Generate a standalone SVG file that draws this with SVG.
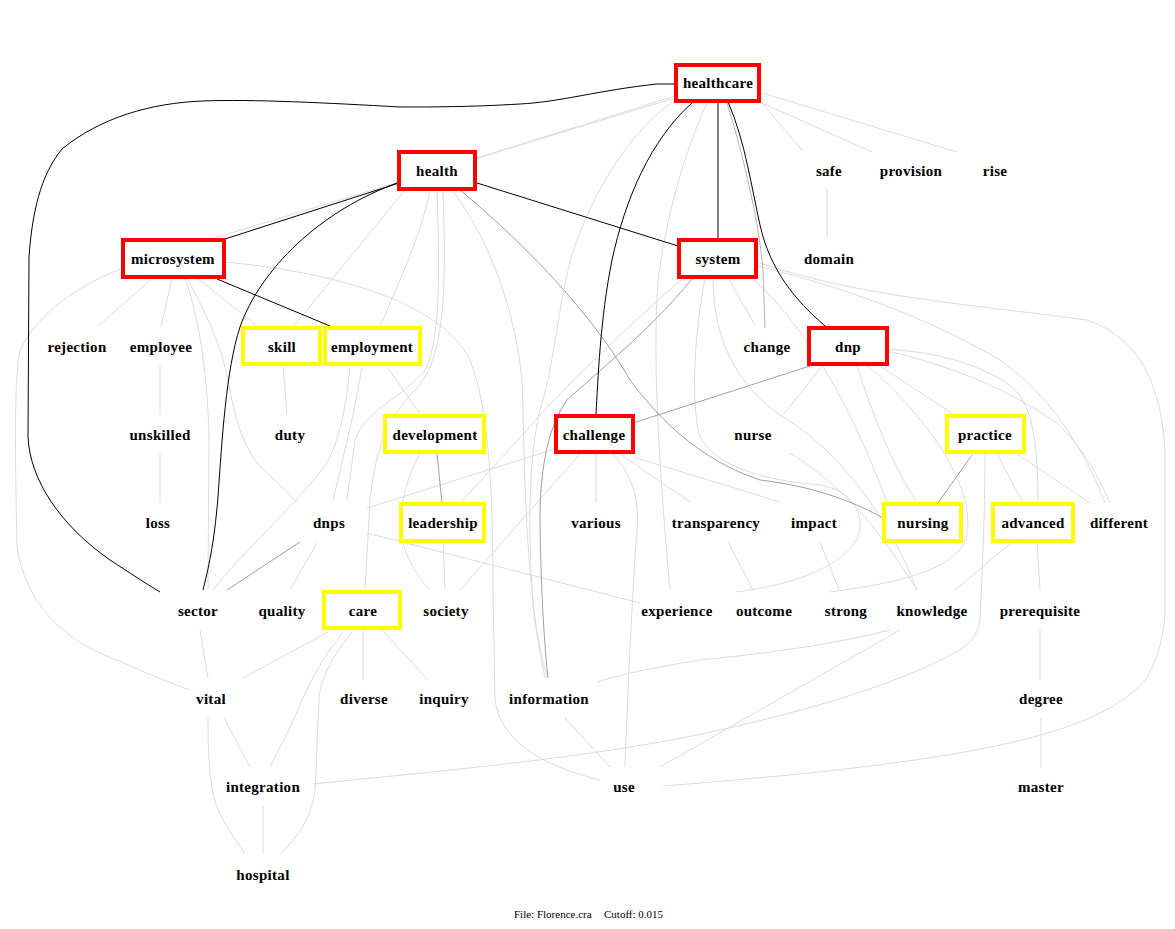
<svg xmlns="http://www.w3.org/2000/svg" width="1175" height="929" viewBox="0 0 1175 929">
<style>
text{font-family:"Liberation Serif","Times New Roman",serif;font-size:15px;font-weight:bold;fill:#000;text-anchor:middle;letter-spacing:0.3px}
.ft{font-size:11px;font-weight:normal;text-anchor:start;letter-spacing:0}
.e path{fill:none;stroke-width:1}
.k{stroke:#000}
.g{stroke:#A0A0A0}
.m{stroke:#B4B4B4}
.l{stroke:#DCDCDC}
.r{fill:#fff;stroke:#FF0000;stroke-width:4}
.y{fill:#fff;stroke:#FFFF00;stroke-width:4}
</style>
<rect width="1175" height="929" fill="#fff"/>
<g id="connectors" class="e">
<path class="l" d="M675,96 L477,158"/>
<path class="l" d="M675,98 L208,240"/>
<path class="l" d="M760,101 L803,151"/>
<path class="l" d="M762,103 L872,152"/>
<path class="l" d="M762,93 L957,152"/>
<path class="l" d="M707,103 C685,150 665,220 658,282 C652,360 660,480 670,590"/>
<path class="l" d="M672,102 C620,140 585,210 570,262 C558,310 553,370 540,410 C530,450 527,520 533,603 C537,640 541,660 545,678"/>
<path class="l" d="M827,190 L827,238"/>
<path class="l" d="M405,190 L293,327"/>
<path class="l" d="M430,190 C420,240 395,290 380,327"/>
<path class="l" d="M437,190 C440,280 440,340 425,370 C400,400 365,410 355,440 L347,500"/>
<path class="l" d="M443,190 C446,280 446,350 420,385 C388,415 375,450 370,500 L365,590"/>
<path class="l" d="M452,190 C490,240 515,310 522,380 C524,430 524,520 533,603 C537,640 543,660 547,678"/>
<path class="l" d="M153,278 L97,327"/>
<path class="l" d="M172,278 L161,327"/>
<path class="l" d="M197,278 L258,327"/>
<path class="l" d="M185,278 C200,320 208,380 209,440 L208,590"/>
<path class="l" d="M187,278 C210,320 222,350 228,380 C235,420 245,455 267,473 C280,485 290,495 297,502"/>
<path class="l" d="M123,268 C80,285 40,310 20,350 C14,380 15,450 17,547 C25,600 60,640 117,660 C150,675 170,683 190,690"/>
<path class="l" d="M225,262 C330,272 440,300 470,360 C490,410 493,500 493,590 L495,700 C500,740 540,765 600,780"/>
<path class="l" d="M160,366 L160,415"/>
<path class="l" d="M160,454 L160,503"/>
<path class="l" d="M283,366 L287,415"/>
<path class="l" d="M362,367 C355,410 345,450 333,500"/>
<path class="l" d="M387,367 C400,385 410,400 420,413"/>
<path class="l" d="M350,367 C345,420 335,455 320,472 C290,510 240,555 213,590"/>
<path class="l" d="M317,543 L290,590"/>
<path class="l" d="M367,533 L640,603"/>
<path class="l" d="M367,508 L555,449"/>
<path class="l" d="M200,630 L208,678"/>
<path class="l" d="M328,632 L243,678"/>
<path class="l" d="M363,630 L363,680"/>
<path class="l" d="M382,630 L428,680"/>
<path class="l" d="M343,632 C325,655 310,680 300,705 C290,730 278,750 270,767"/>
<path class="l" d="M352,632 C330,660 320,680 319,700 C317,740 316,780 315,790 C312,815 300,835 281,853"/>
<path class="l" d="M224,718 L250,767"/>
<path class="l" d="M208,718 C208,760 210,790 218,810 C228,830 237,843 245,853"/>
<path class="l" d="M263,806 L263,853"/>
<path class="l" d="M313,784 C450,770 600,757 720,730 C800,712 893,687 960,650 C975,640 978,630 980,620 C983,560 985,500 985,455"/>
<path class="l" d="M420,453 C405,480 400,510 400,527 C402,550 415,575 430,590"/>
<path class="l" d="M443,542 L445,590"/>
<path class="l" d="M580,454 L460,590"/>
<path class="l" d="M596,454 L596,503"/>
<path class="l" d="M620,454 L690,502"/>
<path class="l" d="M633,457 L780,502"/>
<path class="l" d="M613,454 C632,475 640,500 637,530 C633,580 628,680 625,767"/>
<path class="l" d="M683,278 C630,325 570,380 527,430 L460,503"/>
<path class="l" d="M728,278 L755,325"/>
<path class="l" d="M713,278 C713,330 730,380 780,415 C840,450 890,520 917,590"/>
<path class="l" d="M705,278 C695,330 690,400 700,437 C715,465 760,480 820,485 C850,490 862,510 860,530 C855,560 800,585 735,592"/>
<path class="l" d="M752,278 C800,320 850,400 887,503"/>
<path class="l" d="M822,366 L783,415"/>
<path class="l" d="M857,366 C875,420 890,460 917,503"/>
<path class="l" d="M880,366 L953,414"/>
<path class="l" d="M887,349 C930,352 970,360 1007,383 C1030,400 1038,430 1038,503"/>
<path class="l" d="M887,351 C950,365 1010,390 1057,423 C1085,450 1100,480 1110,503"/>
<path class="l" d="M868,366 C930,420 978,490 966,540 C950,575 880,585 830,592"/>
<path class="l" d="M757,266 C860,290 950,330 1000,360 C1050,395 1085,450 1105,503"/>
<path class="l" d="M757,262 C860,297 960,303 1087,320 C1130,335 1160,370 1165,450 L1165,617 C1162,645 1155,665 1145,680 C1100,730 1000,760 663,786"/>
<path class="l" d="M790,453 Q860,495 917,590"/>
<path class="l" d="M728,542 L753,590"/>
<path class="l" d="M820,542 L839,590"/>
<path class="l" d="M997,454 L1023,503"/>
<path class="l" d="M1017,454 L1090,503"/>
<path class="l" d="M1037,542 L1040,590"/>
<path class="l" d="M1012,542 L955,590"/>
<path class="l" d="M1040,630 L1040,680"/>
<path class="l" d="M1041,718 L1041,768"/>
<path class="l" d="M900,630 L660,767"/>
<path class="l" d="M890,630 C850,640 800,650 700,660 C650,668 620,675 597,682"/>
<path class="l" d="M565,718 L610,767"/>
<path class="m" d="M727,103 C745,160 760,230 763,270 L765,328"/>
<path class="g" d="M460,190 C520,240 590,310 630,380 C660,420 700,460 760,480 C820,487 860,505 883,518"/>
<path class="g" d="M810,366 L633,423"/>
<path class="g" d="M692,279 C650,330 600,370 567,400 C545,430 540,480 540,520 C541,600 545,650 548,678"/>
<path class="g" d="M437,454 L442,503"/>
<path class="g" d="M972,455 L938,503"/>
<path class="g" d="M300,542 L227,590"/>
<path class="k" d="M675,84 L657,84 C600,90 560,102 520,104 C470,107 430,107 400,107 C330,103 250,99 203,101 C150,103 100,118 62,149 C45,170 33,200 29,257 L28,437 C30,480 60,525 110,560 C130,573 145,583 160,592"/>
<path class="k" d="M399,183 L225,239"/>
<path class="k" d="M400,182 C320,210 260,270 240,327 C226,370 222,440 218,497 C214,545 208,570 203,590"/>
<path class="k" d="M217,279 L330,326"/>
<path class="k" d="M477,183 L678,246"/>
<path class="k" d="M718,103 L718,239"/>
<path class="k" d="M693,102 C650,140 625,200 612,260 C600,320 598,380 596,414"/>
<path class="k" d="M728,102 C745,140 752,190 760,225 C770,270 795,300 825,326"/>
</g>
<g id="healthcare"><rect class="r" x="676" y="65" width="83" height="36"/><text x="718" y="88">healthcare</text></g>
<g id="health"><rect class="r" x="399" y="152" width="76" height="37"/><text x="437" y="176">health</text></g>
<g id="safe"><text x="829" y="176">safe</text></g>
<g id="provision"><text x="911" y="176">provision</text></g>
<g id="rise"><text x="995" y="176">rise</text></g>
<g id="microsystem"><rect class="r" x="123" y="240" width="101" height="37"/><text x="173" y="264">microsystem</text></g>
<g id="system"><rect class="r" x="679" y="240" width="77" height="37"/><text x="718" y="264">system</text></g>
<g id="domain"><text x="829" y="264">domain</text></g>
<g id="rejection"><text x="77" y="352">rejection</text></g>
<g id="employee"><text x="161" y="352">employee</text></g>
<g id="skill"><rect class="y" x="243" y="328" width="77" height="36"/><text x="282" y="352">skill</text></g>
<g id="employment"><rect class="y" x="325" y="328" width="95" height="36"/><text x="372" y="352">employment</text></g>
<g id="change"><text x="767" y="352">change</text></g>
<g id="dnp"><rect class="r" x="809" y="328" width="78" height="36"/><text x="848" y="352">dnp</text></g>
<g id="unskilled"><text x="160" y="440">unskilled</text></g>
<g id="duty"><text x="290" y="440">duty</text></g>
<g id="development"><rect class="y" x="385" y="416" width="99" height="36"/><text x="435" y="440">development</text></g>
<g id="challenge"><rect class="r" x="556" y="416" width="77" height="36"/><text x="594" y="440">challenge</text></g>
<g id="nurse"><text x="753" y="440">nurse</text></g>
<g id="practice"><rect class="y" x="947" y="416" width="77" height="36"/><text x="985" y="440">practice</text></g>
<g id="loss"><text x="158" y="528">loss</text></g>
<g id="dnps"><text x="329" y="528">dnps</text></g>
<g id="leadership"><rect class="y" x="401" y="504" width="83" height="37"/><text x="443" y="528">leadership</text></g>
<g id="various"><text x="596" y="528">various</text></g>
<g id="transparency"><text x="716" y="528">transparency</text></g>
<g id="impact"><text x="814" y="528">impact</text></g>
<g id="nursing"><rect class="y" x="884" y="504" width="77" height="37"/><text x="923" y="528">nursing</text></g>
<g id="advanced"><rect class="y" x="993" y="504" width="80" height="37"/><text x="1033" y="528">advanced</text></g>
<g id="different"><text x="1119" y="528">different</text></g>
<g id="sector"><text x="198" y="616">sector</text></g>
<g id="quality"><text x="282" y="616">quality</text></g>
<g id="care"><rect class="y" x="324" y="592" width="76" height="36"/><text x="363" y="616">care</text></g>
<g id="society"><text x="446" y="616">society</text></g>
<g id="experience"><text x="677" y="616">experience</text></g>
<g id="outcome"><text x="764" y="616">outcome</text></g>
<g id="strong"><text x="846" y="616">strong</text></g>
<g id="knowledge"><text x="932" y="616">knowledge</text></g>
<g id="prerequisite"><text x="1040" y="616">prerequisite</text></g>
<g id="vital"><text x="211" y="704">vital</text></g>
<g id="diverse"><text x="364" y="704">diverse</text></g>
<g id="inquiry"><text x="444" y="704">inquiry</text></g>
<g id="information"><text x="549" y="704">information</text></g>
<g id="degree"><text x="1041" y="704">degree</text></g>
<g id="integration"><text x="263" y="792">integration</text></g>
<g id="use"><text x="624" y="792">use</text></g>
<g id="master"><text x="1041" y="792">master</text></g>
<g id="hospital"><text x="263" y="880">hospital</text></g>
<text class="ft" x="514" y="918">File: Florence.cra</text>
<text class="ft" x="604" y="918">Cutoff: 0.015</text>
</svg>
